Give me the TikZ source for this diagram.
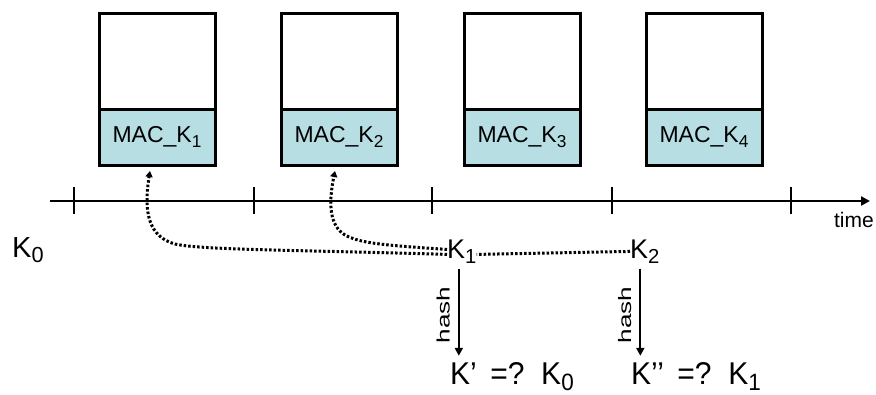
\documentclass[tikz,border=0pt]{standalone}
\usepackage{fontspec}
\setmainfont{Liberation Sans}
\usetikzlibrary{arrows.meta}
\definecolor{macfill}{RGB}{183,222,227}
\newcommand\fs[1]{\fontsize{#1}{#1}\selectfont}
% subscript: three quarters size, dropped below the baseline
\newcommand\lowidx[1]{\raisebox{-0.2em}{\scalebox{0.75}{#1}}}
\tikzset{
  payload/.style={draw, line width=3pt, fill=white, minimum width=116pt, minimum height=96pt, inner sep=0pt, outer sep=0pt},
  macbox/.style={draw, line width=3pt, fill=macfill, minimum width=116pt, minimum height=56pt, inner sep=0pt, outer sep=0pt, font=\fs{23}},
  axis/.style={line width=2.4pt, -{Triangle[length=9pt,width=9pt]}},
  tick/.style={line width=1.2pt},
  keylabel/.style={inner sep=0pt, anchor=base west},
  disclose/.style={line width=3pt, dash pattern=on 2.5pt off 2pt, -{Triangle[length=6pt,width=7pt]}},
  keyline/.style={line width=3pt, dash pattern=on 2.5pt off 2pt},
  hasharrow/.style={line width=2.2pt, -{Triangle[length=8pt,width=8pt]}, shorten >=6pt},
  hashlabel/.style={midway, rotate=90, anchor=south, inner sep=8pt, font=\fs{18}},
}
\begin{document}
\begin{tikzpicture}[x=1pt,y=-1pt]
\useasboundingbox (0,0) rectangle (876,394);

% packets with their MAC fields
\foreach \i/\x in {1/157,2/339,3/522,4/704}{
  \node[payload] (p\i) at (\x,61) {};
  \node[macbox] (m\i) at (\x,137) {MAC\_K\lowidx{\i}};
}

% time axis
\coordinate (tl) at (50,201);
\coordinate (tr) at (870,201);
\draw[axis] (tl) -- (tr);
\foreach \x in {74,254,432,612,791}
  \draw[tick] (\x,187) -- (\x,214);
\node[inner sep=0pt, anchor=base east, font=\fs{21}] (time) at (874,227) {time};

% keys
\node[keylabel, font=\fs{29}] (k0) at (12,257) {K\lowidx{0}};
\node[keylabel, font=\fs{27}] (k1) at (447,258) {K\lowidx{1}};
\node[keylabel, font=\fs{27}] (k2) at (630,258) {K\lowidx{2}};

% key disclosure links
\draw[disclose] ([yshift=-3pt]k1.west) .. controls (300,250) and (200,250) .. (175,244)
  .. controls (150,237) and (143,215) .. ([xshift=-7pt,yshift=-6pt]m1.south);
\draw[disclose] ([yshift=2pt]k1.west) .. controls (380,245) and (360,243) .. (345,235)
  .. controls (330,226) and (328,205) .. ([xshift=-4pt,yshift=-6pt]m2.south);
\draw[keyline] (k2.west) -- ([yshift=-3pt]k1.east);

% verification
\node[keylabel, font=\fs{30}] (e1) at (450,384) {\scalebox{1}[1.05]{K’\hspace{0.45em}=?\ \ K\lowidx{0}}};
\node[keylabel, font=\fs{30}] (e2) at (631,384) {\scalebox{1}[1.05]{K’’\hspace{0.45em}=?\ \ K\lowidx{1}}};
\draw[hasharrow] ([xshift=-3pt,yshift=-5pt]k1.south) -- ([xshift=-3pt]k1.south |- e1.north)
  node[hashlabel] {\scalebox{1.45}[1]{hash}};
\draw[hasharrow] ([xshift=-4.5pt,yshift=-5pt]k2.south) -- ([xshift=-4.5pt]k2.south |- e2.north)
  node[hashlabel] {\scalebox{1.45}[1]{hash}};
\end{tikzpicture}
\end{document}
